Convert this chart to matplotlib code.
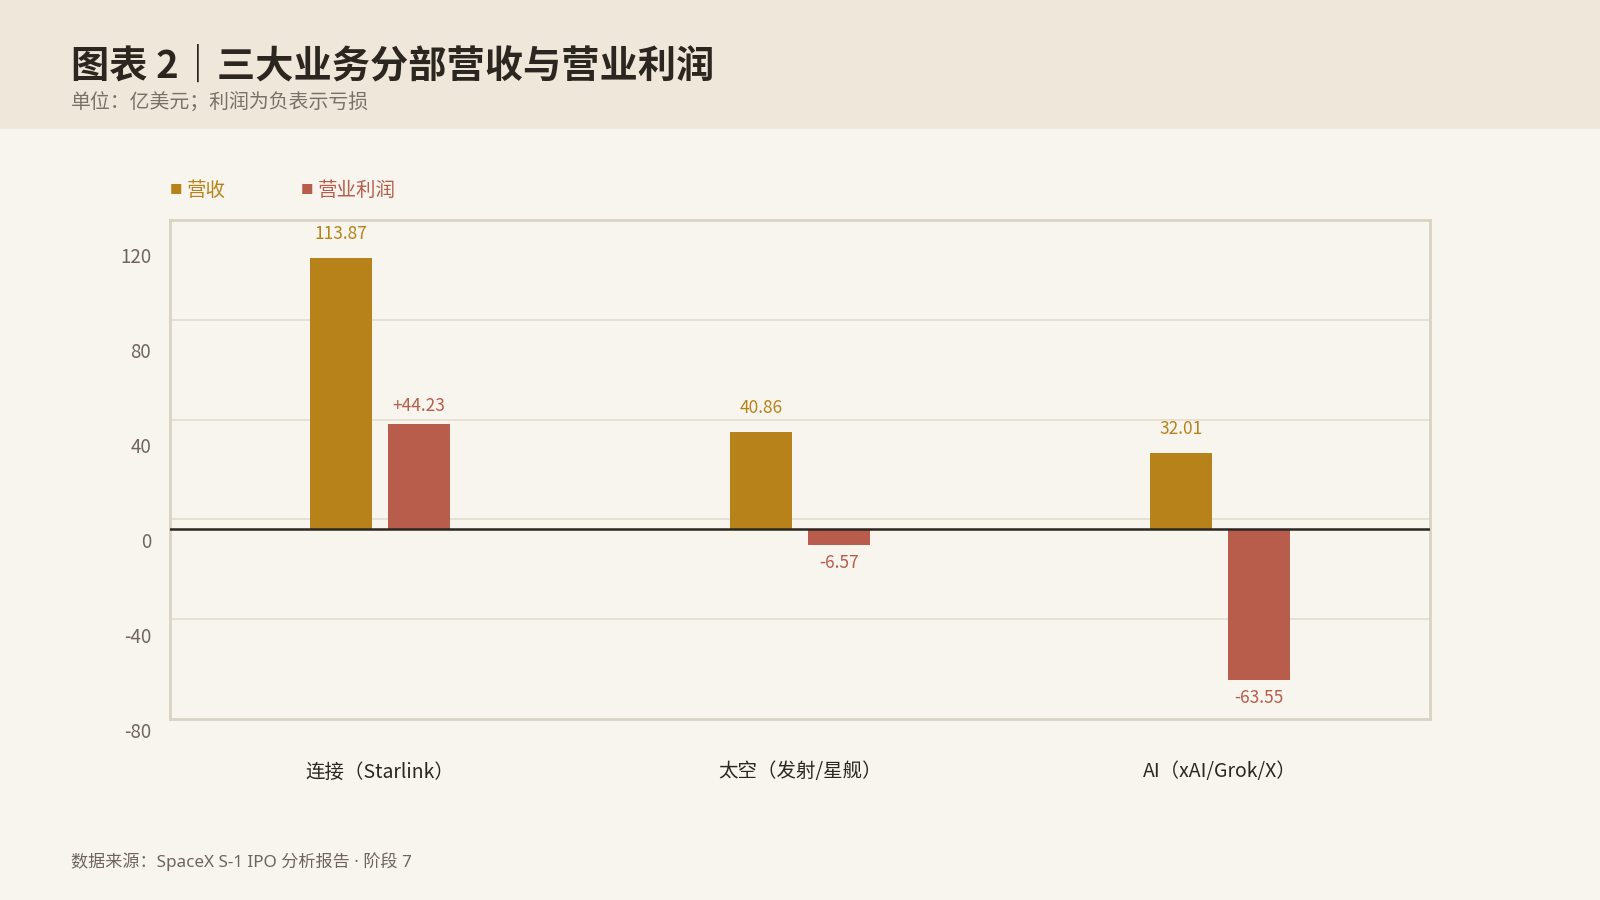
import matplotlib
matplotlib.use("Agg")
import matplotlib.pyplot as plt
import matplotlib.transforms as mtransforms
from matplotlib.patches import Rectangle
import numpy as np

plt.rcParams['font.family'] = ['Noto Sans CJK SC', 'DejaVu Sans']

# Data (亿美元)
categories = ["连接（Starlink）", "太空（发射/星舰）", "AI（xAI/Grok/X）"]
revenue = [113.87, 40.86, 32.01]
profit = [44.23, -6.57, -63.55]
revenue_labels = ["113.87", "40.86", "32.01"]
profit_labels = ["+44.23", "-6.57", "-63.55"]
ytick_values = [120, 80, 40, 0, -40, -80]

GOLD = "#b8821a"
RED = "#b85c4b"
BG = "#f8f5ee"
HEADER = "#efe7da"
BORDER = "#dad2c3"
GRID = "#e4ddcf"
DARK = "#2b2620"
GRAY = "#6e655c"


def main():
    fig = plt.figure(figsize=(16, 9), dpi=100, facecolor=BG)

    # header band
    fig.patches.append(Rectangle((0, 1 - 129 / 900), 1, 129 / 900, transform=fig.transFigure,
                                 facecolor=HEADER, edgecolor="none", zorder=0))
    fig.text(71 / 1600, 1 - 66 / 900, "图表 2｜三大业务分部营收与营业利润", fontsize=27.5,
             fontweight="bold", color=DARK, va="center", ha="left")
    fig.text(71 / 1600, 1 - 103 / 900, "单位：亿美元；利润为负表示亏损", fontsize=14.3,
             color="#7a7067", va="center", ha="left")

    # legend as text
    fig.text(170 / 1600, 1 - 190 / 900, "■", fontsize=9, color=GOLD, va="center", ha="left")
    fig.text(187 / 1600, 1 - 190 / 900, "营收", fontsize=14, color=GOLD, va="center", ha="left")
    fig.text(301 / 1600, 1 - 190 / 900, "■", fontsize=9, color=RED, va="center", ha="left")
    fig.text(318 / 1600, 1 - 190 / 900, "营业利润", fontsize=14, color=RED, va="center", ha="left")

    ax = fig.add_axes([170 / 1600, 1 - 719 / 900, (1430 - 170) / 1600, (719 - 220) / 900])
    ax.set_facecolor(BG)

    x = np.arange(len(categories))
    w = 0.148
    off = 0.092
    ax.bar(x - off, revenue, width=w, color=GOLD, zorder=3)
    ax.bar(x + off, profit, width=w, color=RED, zorder=3)

    ax.set_xlim(-0.5, len(categories) - 0.5)
    ymin, ymax = -80, 130
    ax.set_ylim(ymin, ymax)

    # grid lines divide the box into five equal parts
    for g in np.linspace(ymin, ymax, 6)[1:-1]:
        ax.axhline(g, color=GRID, lw=1.2, zorder=1)
    ax.axhline(0, color=DARK, lw=1.8, zorder=4)

    for s in ax.spines.values():
        s.set_color(BORDER)
        s.set_linewidth(2)

    ax.set_xticks([])
    ax.set_yticks([])

    # y labels (drawn slightly below their values, as in the source)
    ylab_tr = mtransforms.blended_transform_factory(fig.transFigure, ax.transData)
    ylab_tr = mtransforms.offset_copy(ylab_tr, fig=fig, y=-14, units="dots")
    for v in ytick_values:
        ax.text(151 / 1600, v, str(v), transform=ylab_tr, ha="right", va="center",
                fontsize=13.5, color=GRAY, clip_on=False)

    # category labels
    for xi, c in zip(x, categories):
        ax.annotate(c, (xi, ymin), xytext=(0, -53), textcoords="offset pixels",
                    ha="center", va="center", fontsize=14, color=DARK, annotation_clip=False)

    # value labels
    for xi, v, t in zip(x, revenue, revenue_labels):
        ax.annotate(t, (xi - off, v), xytext=(0, 24), textcoords="offset pixels",
                    ha="center", va="center", fontsize=12.5, color=GOLD)
    for xi, v, t in zip(x, profit, profit_labels):
        dy = 18 if v >= 0 else -18
        ax.annotate(t, (xi + off, v), xytext=(0, dy), textcoords="offset pixels",
                    ha="center", va="center", fontsize=12.5, color=RED)

    fig.text(71 / 1600, 1 - 862 / 900, "数据来源：SpaceX S-1 IPO 分析报告 · 阶段 7", fontsize=12.3,
             family=['Noto Sans', 'Noto Sans CJK SC'], color=GRAY, va="center", ha="left")

    fig.savefig("out.png", dpi=100, facecolor=BG)


if __name__ == "__main__":
    main()
